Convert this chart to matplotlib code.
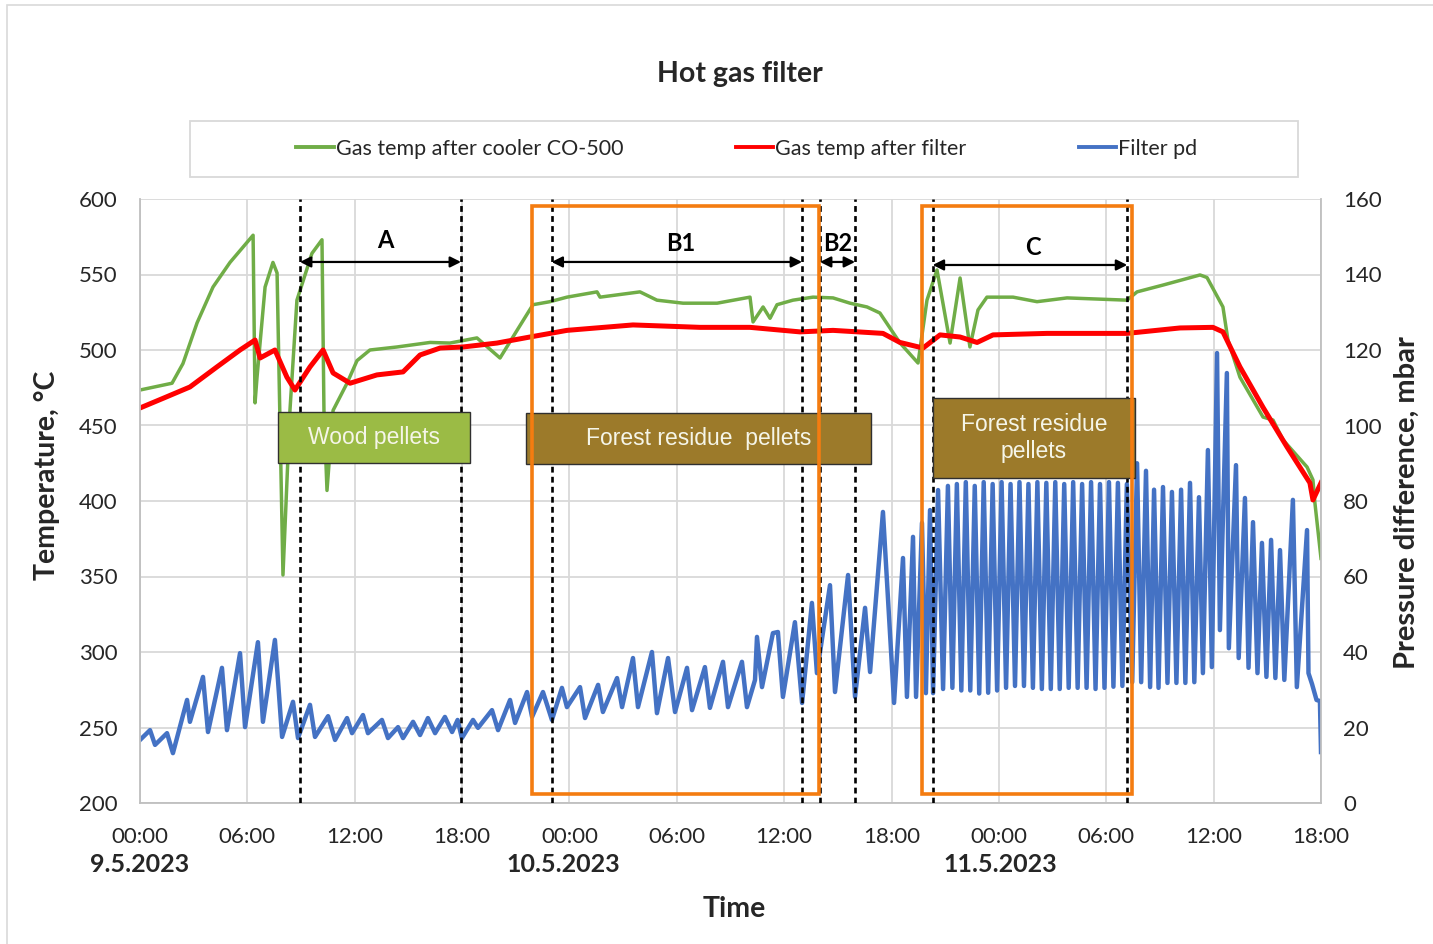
import matplotlib
matplotlib.use('Agg')
import matplotlib.pyplot as plt
from matplotlib.patches import Rectangle
import matplotlib.transforms as mtransforms

plt.rcParams['font.family'] = ['Lato', 'DejaVu Sans']

# ---------------- data (time in hours from 9.5.2023 00:00) ----------------
x_ticks = [0, 6, 12, 18, 24, 30, 36, 42, 48, 54, 60, 66]
x_ticklabels = ["00:00", "06:00", "12:00", "18:00", "00:00", "06:00",
                "12:00", "18:00", "00:00", "06:00", "12:00", "18:00"]
date_labels = ["9.5.2023", "10.5.2023", "11.5.2023"]
date_pos_h = [0.0, 23.64, 48.06]

temp_ticks = [200, 250, 300, 350, 400, 450, 500, 550, 600]
pd_ticks = [0, 20, 40, 60, 80, 100, 120, 140, 160]

green_h = [0.0, 1.79, 2.40, 3.19, 4.08, 5.03, 6.32, 6.43, 6.54, 6.99, 7.43, 7.66, 7.99,
           8.38, 8.77, 9.61, 10.17, 10.28, 10.45, 10.79, 11.57, 12.13, 12.85, 14.36,
           16.21, 17.32, 18.83, 20.12, 21.07, 21.96, 22.91, 23.86, 25.54, 25.71, 27.94,
           28.89, 30.35, 32.25, 34.09, 34.26, 34.82, 35.21, 35.60, 36.49, 37.61, 38.73,
           39.68, 40.63, 41.35, 42.47, 43.48, 43.98, 44.54, 45.27, 45.83, 46.38, 46.83,
           47.33, 48.79, 50.13, 51.81, 55.16, 55.72, 57.17, 59.24, 59.63, 60.52, 60.80,
           61.47, 62.76, 63.32, 63.88, 65.22, 65.55, 65.66, 66.0]
green_T = [473.5, 478, 491, 518, 541.7, 558, 576, 465, 482, 541.7, 558, 551, 351,
           460, 533, 564, 573, 460, 407, 460, 478, 493, 500, 502,
           505, 504.6, 508, 494.7, 513, 530, 532, 535, 538.5, 535, 538.5,
           533, 531, 531, 535, 518.6, 528.5, 521, 530, 533, 535, 534.5,
           531, 528.5, 524.5, 504.7, 491.4, 533, 553, 504.6, 547.7, 502, 526.5,
           535, 535, 532, 534.5, 533, 538.5, 543, 549.7, 548, 528.5, 506.6,
           482, 455.6, 453.6, 440.4, 422.5, 414, 398.7, 362]

red_h = [0, 1.29, 2.79, 4.30, 5.59, 6.43, 6.71, 7.54, 8.21, 8.66, 9.50, 10.23, 10.79,
         11.74, 13.24, 14.70, 15.65, 16.77, 18.05, 19.95, 21.79, 23.86, 27.55, 31.30,
         34.09, 36.88, 38.73, 41.52, 42.47, 43.76, 44.71, 45.83, 46.78, 47.67, 50.69,
         55.16, 58.12, 59.96, 60.52, 61.47, 62.76, 64.10, 65.38, 65.55, 66.0]
red_T = [461.6, 468, 475.5, 488.8, 500, 506.6, 494.7, 500, 482, 473.5, 488.8, 500, 484.8,
         478, 483.5, 485.5, 496.7, 501.3, 502, 504.6, 508.6, 513, 516.6, 515,
         515, 512, 513, 511, 505, 501.3, 510, 508.6, 505, 510, 511,
         511, 514.6, 515, 512, 488.8, 462, 435.8, 412, 400.7, 412]

pd_h = [0.00, 0.56, 0.84, 1.51, 1.84, 2.63, 2.79, 3.52, 3.80, 4.58, 4.86, 5.59, 5.87,
        6.59, 6.87, 7.54, 7.71, 7.94, 8.55, 8.83, 9.50, 9.78, 10.51, 10.90, 11.57,
        11.85, 12.46, 12.74, 13.52, 13.86, 14.42, 14.70, 15.26, 15.65, 16.09, 16.49,
        17.04, 17.44, 17.75, 17.99, 18.61, 18.89, 19.67, 20.01, 20.68, 20.96, 21.63,
        21.91, 22.52, 23.02, 23.58, 23.86, 24.59, 24.87, 25.60, 25.87, 26.66, 26.94,
        27.55, 27.83, 28.61, 28.89, 29.51, 29.90, 30.57, 30.85, 31.57, 31.85, 32.58,
        32.86, 33.64, 33.92, 34.37, 34.48, 34.76, 35.37, 35.65, 35.93, 36.60, 37.00,
        37.55, 37.83, 38.56, 38.84, 39.57, 39.96, 40.52, 40.80, 41.52, 42.14, 42.64,
        42.86, 43.20, 43.37, 43.70, 43.92, 44.15, 44.32, 44.60,
        44.88, 45.15, 45.40, 45.65, 45.90, 46.15, 46.40, 46.65, 46.90, 47.15, 47.40,
        47.65, 47.90, 48.15, 48.40, 48.65, 48.90, 49.15, 49.40, 49.65, 49.90, 50.15,
        50.40, 50.65, 50.90, 51.15, 51.40, 51.65, 51.90, 52.15, 52.40, 52.65, 52.90,
        53.15, 53.40, 53.65, 53.90, 54.15, 54.40, 54.65, 54.90, 55.15, 55.45,
        55.72, 55.95, 56.22, 56.45, 56.67, 56.92, 57.17, 57.42, 57.67, 57.92, 58.18,
        58.42, 58.68, 58.92, 59.18, 59.40, 59.68, 59.90, 60.19, 60.35, 60.74, 60.85,
        61.25, 61.40, 61.75, 61.95, 62.20, 62.45, 62.70, 62.95, 63.21, 63.45, 63.71,
        63.95, 64.43, 64.65, 65.22, 65.30, 65.50, 65.75, 65.94, 66.0]
pd_mbar = [16.7, 19.3, 15.4, 18.5, 13.2, 27.3, 21.5, 33.4, 18.8, 35.8, 19.3, 39.7, 20.1,
           42.6, 21.5, 43.2, 32.6, 17.5, 26.8, 17.2, 26.0, 17.5, 23.0, 16.7, 22.5,
           18.5, 23.3, 18.5, 22.0, 17.2, 20.1, 17.2, 21.5, 18.0, 22.5, 18.5,
           22.8, 18.8, 22.0, 17.2, 22.0, 19.9, 24.6, 19.3, 27.3, 21.2, 29.4,
           22.8, 29.4, 22.0, 30.5, 25.4, 30.7, 22.5, 31.3, 24.1, 33.1, 25.4,
           38.4, 25.4, 40.0, 23.8, 38.4, 24.1, 35.8, 24.6, 36.0, 25.2, 37.4,
           25.4, 37.4, 25.4, 32.6, 44.0, 30.7, 45.0, 45.3, 28.1, 47.9, 26.5,
           53.0, 34.4, 57.7, 29.4, 60.4, 28.1, 51.7, 34.7, 77.1, 26.5, 64.9,
           28.1, 70.5, 28.1, 74.2, 29.1, 77.6, 29.1, 82.9,
           30.2, 84.0, 30.5, 84.5, 29.8, 85.0, 29.8, 84.0, 29.0, 85.0, 29.2,
           84.5, 29.8, 85.0, 30.5, 84.5, 31.0, 85.0, 31.0, 84.5, 30.5, 85.0,
           30.2, 84.8, 30.2, 85.0, 30.2, 84.5, 30.5, 85.0, 30.5, 84.5, 30.5,
           85.0, 30.2, 84.5, 30.5, 85.0, 30.8, 84.8, 31.0, 84.5, 32.0,
           90.0, 32.0, 88.0, 30.7, 83.0, 30.5, 83.7, 31.8, 82.4, 31.8, 83.0,
           31.8, 84.8, 32.0, 81.0, 34.4, 93.5, 36.0, 119.2, 45.8, 113.9, 41.0,
           89.5, 38.4, 80.8, 35.8, 74.4, 34.4, 68.9, 33.4, 69.7, 33.1, 67.0,
           32.6, 80.3, 30.7, 72.3, 34.4, 31.5, 27.3, 27.0, 13.5]

# period markers (hours)
vline_h = [8.94, 17.94, 23.0, 37.0, 38.0, 39.96, 44.3, 55.17]
periods = ["A", "B1", "B2", "C"]
period_start = [8.94, 23.0, 38.0, 44.3]
period_end = [17.94, 37.0, 39.96, 55.17]
period_label_h = [13.69, 30.23, 39.0, 49.9]
period_arrow_T = [558.3, 558.3, 558.3, 556.3]
period_label_T = [572.2, 570.2, 570.2, 568.2]

# fuel boxes
fuel_labels = ["Wood pellets", "Forest residue  pellets", "Forest residue\npellets"]
fuel_h0 = [7.71, 21.57, 44.32]
fuel_h1 = [18.44, 40.85, 55.60]
fuel_T0 = [425.2, 424.5, 415.2]
fuel_T1 = [459.0, 458.3, 468.2]
fuel_colors = ["#9BBB45", "#9C7A2A", "#9C7A2A"]

# orange highlight frames
frame_h0 = [21.9, 43.7]
frame_h1 = [37.95, 55.45]
frame_T0 = [206.0, 206.0]
frame_T1 = [595.4, 595.4]

# ---------------- figure ----------------
W, H = 1433, 944
fig = plt.figure(figsize=(W / 100, H / 100), dpi=100)
ax = fig.add_axes([140 / W, 1 - 803 / H, (1321 - 140) / W, (803 - 199) / H])
ax2 = ax.twinx()
ax.set_zorder(2)
ax2.set_zorder(1)
ax.patch.set_visible(False)
ax2.patch.set_visible(True)
ax2.patch.set_facecolor('white')

ax.set_xlim(0, 66)
ax.set_ylim(200, 600)
ax2.set_ylim(0, 160)

grid_c = '#d9d9d9'
ax2.xaxis.set_visible(True)
ax2.set_xticks(x_ticks)
ax2.tick_params(axis='x', labelbottom=False, labeltop=False, length=0)
ax2.grid(True, axis='both', color=grid_c, lw=1.3)
ax2.set_axisbelow(True)
ax.grid(False)

tick_c = '#262626'
ax.set_xticks(x_ticks)
ax.set_xticklabels(x_ticklabels)
ax.set_yticks(temp_ticks)
ax2.set_yticks(pd_ticks)
ax.tick_params(axis='both', length=0, labelsize=16, colors=tick_c, pad=16)
ax2.tick_params(axis='y', length=0, labelsize=16, colors=tick_c, pad=16)
ax.tick_params(axis='x', pad=17)

for s in ax.spines.values():
    s.set_color('#bfbfbf')
    s.set_linewidth(1.3)
ax.spines['top'].set_visible(False)
for s in ax2.spines.values():
    s.set_visible(False)

# series
ax2.plot(pd_h, pd_mbar, color='#4472C4', lw=3.2, zorder=2, solid_joinstyle='round')
ax.plot(green_h, green_T, color='#70AD47', lw=2.5, zorder=2)
ax.plot(red_h, red_T, color='#FF0000', lw=3.6, zorder=2.5)

# dashed period lines
for h in vline_h:
    ax.axvline(h, color='black', lw=1.9, linestyle=(0, (2.2, 1.6)), zorder=3)

# arrows + labels
for lab, h0, h1, lh, aT, lT in zip(periods, period_start, period_end,
                                    period_label_h, period_arrow_T, period_label_T):
    ax.annotate('', xy=(h1, aT), xytext=(h0, aT),
                arrowprops=dict(arrowstyle='<|-|>', color='black', lw=1.6,
                                mutation_scale=16, shrinkA=0, shrinkB=0), zorder=4)
    ax.text(lh, lT, lab, ha='center', va='center', fontsize=17,
            fontweight='bold', color='black', zorder=5)

# fuel boxes
for lab, h0, h1, t0, t1, c in zip(fuel_labels, fuel_h0, fuel_h1, fuel_T0, fuel_T1, fuel_colors):
    ax.add_patch(Rectangle((h0, t0), h1 - h0, t1 - t0, facecolor=c,
                           edgecolor='#303030', lw=1.0, zorder=4))
    ax.text((h0 + h1) / 2, (t0 + t1) / 2, lab, ha='center', va='center',
            fontsize=16.5, color='#f5f5e8', family=['Liberation Sans'],
            linespacing=1.25, zorder=5)

# orange frames
for h0, h1, t0, t1 in zip(frame_h0, frame_h1, frame_T0, frame_T1):
    ax.add_patch(Rectangle((h0, t0), h1 - h0, t1 - t0, facecolor='none',
                           edgecolor='#F47C10', lw=2.6, zorder=6))

# date labels
trans = mtransforms.blended_transform_factory(ax.transData, fig.transFigure)
for lab, h in zip(date_labels, date_pos_h):
    ax.text(h, 1 - 864 / H, lab, transform=trans, ha='center', va='center',
            fontsize=18, fontweight='bold', color='#262626')

# titles / axis labels
lab_fs = 20.5
fig.text(740 / W, 1 - 74 / H, "Hot gas filter", ha='center', va='center',
         fontsize=lab_fs, fontweight='bold', color='#262626')
fig.text(734 / W, 1 - 909 / H, "Time", ha='center', va='center',
         fontsize=lab_fs, fontweight='bold', color='#262626')
fig.text(47 / W, 1 - 475 / H, "Temperature, °C", ha='center', va='center',
         rotation=90, fontsize=lab_fs, fontweight='bold', color='#262626')
fig.text(1407 / W, 1 - 503 / H, "Pressure difference, mbar", ha='center', va='center',
         rotation=90, fontsize=21, fontweight='bold', color='#262626')

# legend
fig.patches.append(Rectangle((190 / W, 1 - 177 / H), (1298 - 190) / W, 56 / H,
                             transform=fig.transFigure, facecolor='white',
                             edgecolor='#d9d9d9', lw=1.3))
handles = [plt.Line2D([], [], color='#70AD47', lw=2.8),
           plt.Line2D([], [], color='#FF0000', lw=2.8),
           plt.Line2D([], [], color='#4472C4', lw=2.8)]
fig.legend(handles, ["Gas temp after cooler CO-500", "Gas temp after filter", "Filter pd"],
           loc='center', bbox_to_anchor=(747 / W, 1 - 149 / H), ncol=3, frameon=False,
           fontsize=15.5, handlelength=1.75, handletextpad=0.1, columnspacing=5.2,
           labelcolor='#262626')

# outer border
fig.patches.append(Rectangle((7 / W, -0.01), 1.0, 1 - 5 / H + 0.01,
                             transform=fig.transFigure, facecolor='none',
                             edgecolor='#d9d9d9', lw=1.2))

fig.savefig('out.png', dpi=100)
